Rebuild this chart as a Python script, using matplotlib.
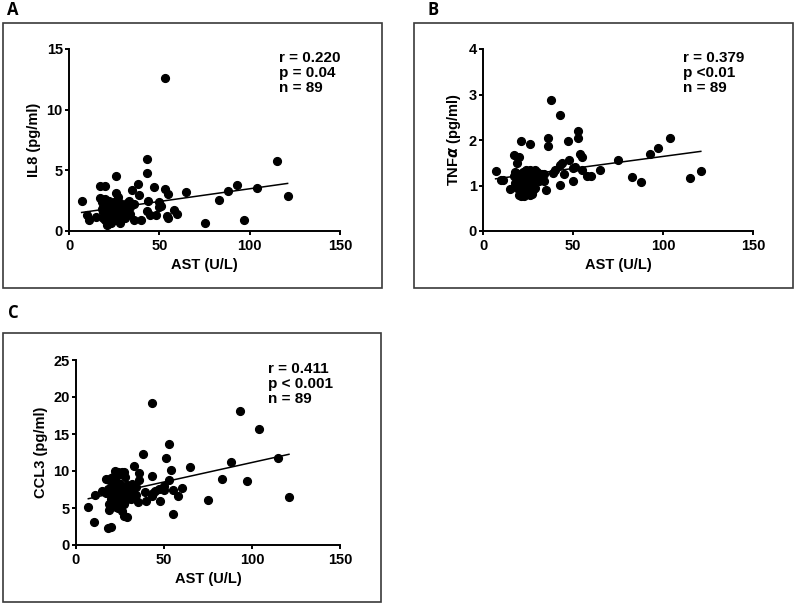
import numpy as np
import matplotlib.pyplot as plt
from matplotlib.patches import Rectangle

# AST (U/L) for each of the 89 patients, shared by the three panels
ast = [7, 10, 11, 15, 17, 20, 26, 33, 35, 36, 36, 38, 39, 40, 43, 43, 43, 44, 45, 47,
       48, 50, 50, 51, 53, 53, 54, 55, 55, 58, 60, 65, 75, 83, 88, 93, 97, 104, 115, 121,
       17, 18, 18, 19, 19, 19, 20, 20, 20, 21, 21, 21, 21, 22, 22, 22, 22, 23, 23, 23,
       23, 24, 24, 24, 24, 25, 25, 25, 25, 26, 26, 26, 27, 27, 27, 28, 28, 28, 29, 29,
       29, 30, 30, 31, 31, 32, 32, 34, 34]

il8 = [2.45, 1.3, 0.88, 1.15, 3.75, 3.75, 4.5, 2.45, 3.35, 0.88, 2.2, 3.85, 2.95, 0.88, 5.9, 4.8, 1.62, 2.45, 1.3, 3.6,
       1.32, 2.37, 1.98, 2.1, 12.6, 3.5, 1.2, 3.08, 1.05, 1.76, 1.43, 3.2, 0.66, 2.56, 3.28, 3.8, 0.88, 3.52, 5.73, 2.86,
       2.7, 1.8, 2.4, 1.1, 1.6, 2.0, 0.9, 1.3, 2.6, 0.5, 1.0, 1.5, 2.2, 0.8, 1.2, 1.7, 2.5, 0.7, 1.4, 1.9,
       1.1, 1.0, 1.6, 2.2, 0.9, 1.3, 1.8, 2.4, 1.5, 0.9, 2.0, 3.1, 1.2, 1.7, 2.8, 0.7, 1.4, 2.3, 1.0, 1.6,
       1.2, 1.4, 2.0, 1.1, 1.7, 1.3, 2.3, 1.4, 2.0]

tnfa = [1.32, 1.12, 1.12, 0.93, 1.67, 1.62, 1.91, 1.25, 0.9, 2.04, 1.87, 2.89, 1.27, 1.34, 2.54, 1.01, 1.45, 1.5, 1.25, 1.98,
        1.56, 1.39, 1.09, 1.4, 2.19, 2.04, 1.69, 1.63, 1.35, 1.2, 1.2, 1.34, 1.57, 1.18, 1.08, 1.69, 1.82, 2.04, 1.17, 1.32,
        1.2, 1.05, 1.3, 0.95, 1.15, 1.5, 0.8, 1.0, 1.25, 0.78, 0.95, 1.1, 1.98, 0.82, 1.05, 1.15, 1.3, 0.78, 0.9, 1.15,
        1.25, 0.95, 1.1, 1.25, 1.35, 0.85, 1.05, 1.2, 1.3, 0.8, 1.0, 1.35, 0.82, 1.15, 1.3, 0.9, 1.1, 1.25, 0.95, 1.2,
        1.35, 1.15, 1.3, 1.1, 1.25, 1.15, 1.2, 1.1, 1.25]

ccl3 = [5.1, 3.1, 6.7, 7.3, 8.9, 7.3, 9.9, 10.7, 5.85, 8.8, 9.7, 12.3, 7.1, 6.0, 19.2, 9.3, 6.6, 7.0, 7.3, 7.6,
        6.0, 7.4, 8.0, 11.7, 13.6, 8.8, 10.1, 4.14, 7.4, 6.6, 7.65, 10.6, 6.05, 8.9, 11.2, 18.1, 8.65, 15.7, 11.7, 6.45,
        7.0, 2.3, 7.6, 4.7, 8.8, 5.6, 2.5, 9.0, 6.2, 5.5, 6.8, 8.0, 9.2, 6.0, 7.4, 8.6, 10.0, 6.4, 7.8, 9.5,
        5.2, 5.0, 6.9, 8.4, 9.8, 5.8, 7.1, 8.2, 9.6, 4.6, 6.3, 7.5, 3.9, 5.5, 9.9, 6.0, 7.8, 9.2, 3.8, 6.6,
        8.1, 6.6, 7.6, 6.9, 6.2, 7.1, 8.3, 6.8, 7.9]

panel_letters = ["A", "B", "C"]
y_labels = ["IL8 (pg/ml)", r"TNF$\alpha$ (pg/ml)", "CCL3 (pg/ml)"]
y_maxes = [15, 4, 25]
y_steps = [5, 1, 5]
stats = ["r = 0.220\np = 0.04\nn = 89",
         "r = 0.379\np <0.01\nn = 89",
         "r = 0.411\np < 0.001\nn = 89"]

plt.rcParams["font.family"] = ["Liberation Sans", "DejaVu Sans"]
plt.rcParams["font.weight"] = "bold"
plt.rcParams["mathtext.fontset"] = "dejavusans"

W, H = 796, 604
fig = plt.figure(figsize=(W / 100, H / 100), dpi=100)


def px(x0, y0, x1, y1):
    # pixel box (left, top, right, bottom) -> figure fraction rect
    return [x0 / W, 1 - y1 / H, (x1 - x0) / W, (y1 - y0) / H]


boxes = [(3, 23, 382, 288), (414, 23, 793, 288), (3, 333, 381, 602)]
axes_px = [(69, 49, 340, 231), (483, 49, 753, 231), (76, 360, 340, 545)]
letter_pos = [(13, 10), (433, 10), (13, 313)]
stat_x = [0.775, 0.74, 0.727]

x = np.array(ast, dtype=float)
for i, yvals in enumerate([il8, tnfa, ccl3]):
    y = np.array(yvals, dtype=float)
    bx0, by0, bx1, by1 = boxes[i]
    fig.patches.append(Rectangle((bx0 / W, 1 - by1 / H), (bx1 - bx0) / W, (by1 - by0) / H,
                                 transform=fig.transFigure, fill=False,
                                 edgecolor="#3a3a3a", linewidth=1.2))
    lx, ly = letter_pos[i]
    fig.text(lx / W, 1 - ly / H, panel_letters[i], fontsize=12, fontweight="bold",
             family=["Open Sans", "DejaVu Sans"], ha="center", va="center")

    ax = fig.add_axes(px(*axes_px[i]))
    ax.plot(x, y, "o", color="black", markersize=5.6, clip_on=False, zorder=3)
    slope, intercept = np.polyfit(x, y, 1)
    xl = np.array([x.min(), x.max()])
    ax.plot(xl, intercept + slope * xl, color="black", linewidth=1.1, zorder=2)

    ax.set_xlim(0, 150)
    ax.set_ylim(0, y_maxes[i])
    ax.set_xticks([0, 50, 100, 150])
    ax.set_yticks(np.arange(0, y_maxes[i] + 0.1, y_steps[i]))
    for s in ["top", "right"]:
        ax.spines[s].set_visible(False)
    for s in ["left", "bottom"]:
        ax.spines[s].set_linewidth(1.4)
    ax.tick_params(direction="out", length=3, width=1.4, labelsize=10.5, pad=1.5)
    ax.tick_params(axis="x", pad=3)
    for lab in ax.get_xticklabels() + ax.get_yticklabels():
        lab.set_fontweight("bold")
    ax.set_xlabel("AST (U/L)", fontsize=10.5, fontweight="bold", labelpad=3)
    ax.set_ylabel(y_labels[i], fontsize=10.5, fontweight="bold", labelpad=4)
    ax.text(stat_x[i], 0.99, stats[i], transform=ax.transAxes, fontsize=11,
            fontweight="bold", ha="left", va="top", linespacing=1.1)

fig.savefig("out.png", dpi=100)
